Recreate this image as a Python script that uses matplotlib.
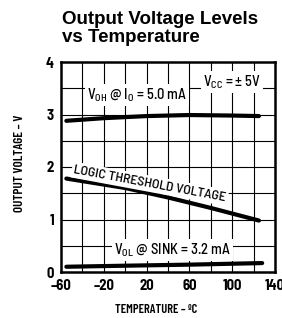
import numpy as np
import matplotlib
matplotlib.use("Agg")
import matplotlib.pyplot as plt

# data
temp_voh = [-55, -20, 20, 60, 100, 125]
voh = [2.88, 2.93, 2.97, 2.99, 2.98, 2.97]

temp_logic = [-55, 0, 40, 80, 125]
logic = [1.78, 1.60, 1.42, 1.22, 0.98]

temp_vol = [-55, 0, 60, 128]
vol = [0.10, 0.12, 0.14, 0.17]

xticks = [-60, -20, 20, 60, 100, 140]
yticks = [0, 1, 2, 3, 4]

semi = ['Barlow Semi Condensed', 'DejaVu Sans']
cond = ['Barlow Condensed', 'DejaVu Sans']

fig = plt.figure(figsize=(2.82, 3.18), dpi=100)
ax = fig.add_axes([61 / 282, 46 / 318, 214 / 282, 210 / 318])

ax.set_xlim(-60, 140)
ax.set_ylim(0, 4)

# grid every 20 degC / 0.5 V
for x in np.arange(-40, 140, 20):
    ax.axvline(x, color='black', lw=0.8, zorder=1)
for y in np.arange(0.5, 4, 0.5):
    ax.axhline(y, color='black', lw=0.8, zorder=1)

for s in ax.spines.values():
    s.set_linewidth(1.8)

lw = 3.0
ax.plot(temp_voh, voh, color='black', lw=lw, solid_capstyle='round', zorder=3)
ax.plot(temp_logic, logic, color='black', lw=lw, solid_capstyle='round', zorder=3)
ax.plot(temp_vol, vol, color='black', lw=lw, solid_capstyle='round', zorder=3)

ax.set_xticks(xticks)
ax.set_xticklabels([str(t).replace('-', '\u2013') for t in xticks])
ax.set_yticks(yticks)
ax.set_yticklabels([str(t) for t in yticks])
ax.tick_params(length=0, pad=5)
for lab in ax.get_xticklabels() + ax.get_yticklabels():
    lab.set_family(semi)
    lab.set_fontweight(700)
    lab.set_fontsize(10.5)

box = dict(facecolor='white', edgecolor='none', pad=1.5)
fs = 10.5
ax.text(100, 3.62, r'V$_{\mathregular{CC}}$ = $\mathregular{\pm}$ 5V', ha='center', va='center',
        fontsize=fs, family=semi, fontweight=500, bbox=box, zorder=4)
ax.text(11, 3.37, r'V$_{\mathregular{OH}}$ @ I$_{\mathregular{O}}$ = 5.0 mA', ha='center', va='center',
        fontsize=fs, family=semi, fontweight=500, bbox=box, zorder=4)
ax.text(44, 0.42, r'V$_{\mathregular{OL}}$ @ SINK = 3.2 mA', ha='center', va='center',
        fontsize=fs, family=semi, fontweight=500, bbox=box, zorder=4)
ax.text(23, 1.68, 'LOGIC THRESHOLD VOLTAGE', ha='center', va='center', rotation=-10.5,
        rotation_mode='anchor', fontsize=10, family=semi, fontweight=500, bbox=box, zorder=4)

fig.text(20 / 282, 1 - 163 / 318, 'OUTPUT VOLTAGE \u2013 V', rotation=90, ha='center', va='center',
         fontsize=9.5, family=cond, fontweight=600)
fig.text(156 / 282, 1 - 310 / 318, 'TEMPERATURE \u2013 \u00baC', ha='center', va='center',
         fontsize=9, family=cond, fontweight=600)

fig.text(62 / 282, 1 - 11 / 318, 'Output Voltage Levels\nvs Temperature', ha='left', va='top',
         fontsize=13.5, fontweight='bold', family=['Liberation Sans', 'DejaVu Sans'], linespacing=1.05)

fig.savefig('out.png', dpi=100)
